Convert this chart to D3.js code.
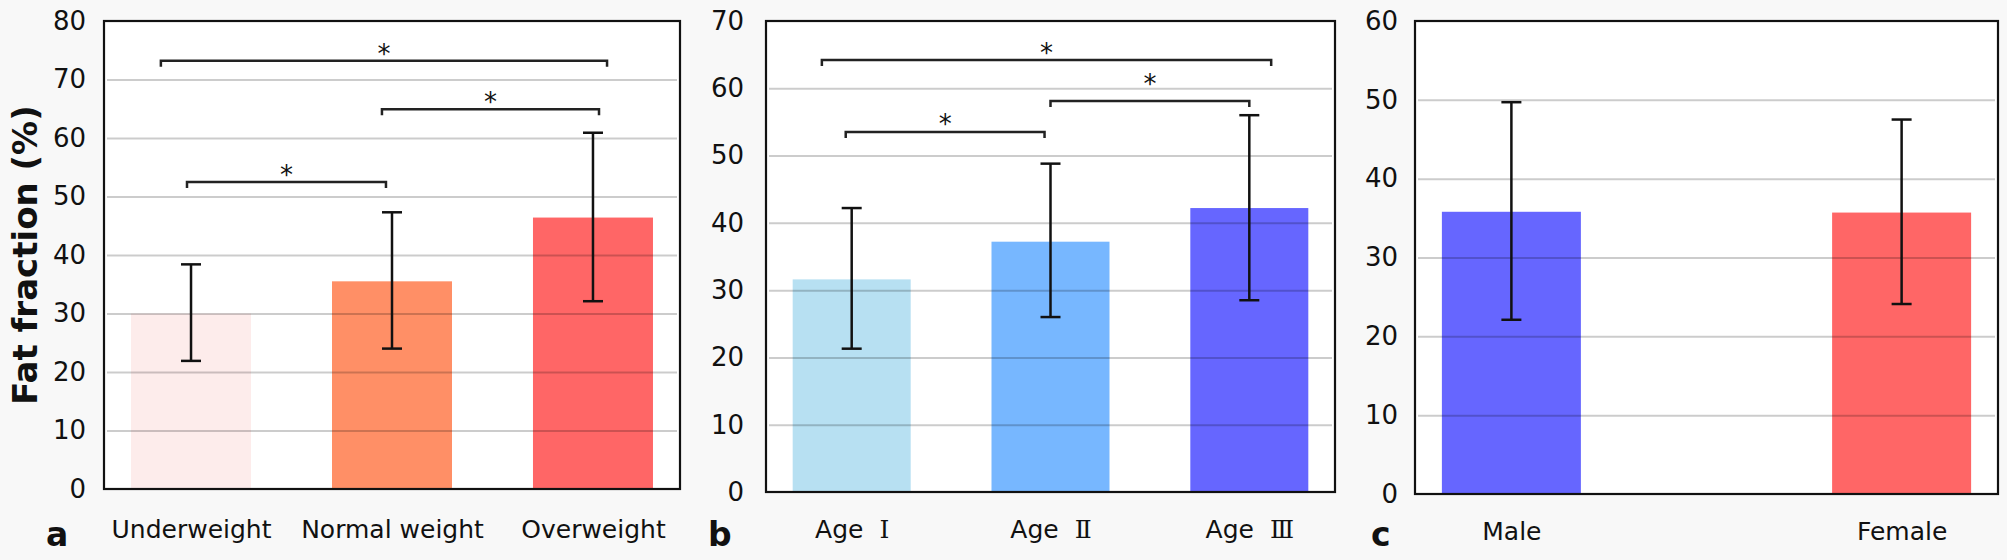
<!DOCTYPE html>
<html>
<head>
<meta charset="utf-8">
<script src="https://cdn.jsdelivr.net/npm/d3@7"></script>
<style>
  body { margin: 0; background: #f8f8f8; }
  svg { display: block; }
  text { font-family: "DejaVu Sans", sans-serif; fill: #111; }
</style>
</head>
<body>
<svg id="chart" width="2007" height="560"></svg>
<script>
// data
const catsA = ["Underweight", "Normal weight", "Overweight"];
const meanA = [30.0, 35.5, 46.4];
const lowA  = [21.9, 24.0, 32.1];
const highA = [38.4, 47.3, 60.9];
const ticksA = [0, 10, 20, 30, 40, 50, 60, 70, 80];
// significance brackets: start/end in category index units, level in %
const sigFromA = [-0.15, 0.95, -0.02];
const sigToA   = [2.07, 2.03, 0.97];
const sigLevA  = [73.2, 64.9, 52.5];

const catsB = ["Age \u2160", "Age \u2161", "Age \u2162"];
const meanB = [31.6, 37.2, 42.2];
const lowB  = [21.3, 26.0, 28.5];
const highB = [42.2, 48.8, 56.0];
const ticksB = [0, 10, 20, 30, 40, 50, 60, 70];
const sigFromB = [-0.15, 1.0, -0.03];
const sigToB   = [2.11, 2.0, 0.97];
const sigLevB  = [64.2, 58.1, 53.5];

const catsC = ["Male", "Female"];
const meanC = [35.8, 35.7];
const lowC  = [22.1, 24.1];
const highC = [49.7, 47.5];
const ticksC = [0, 10, 20, 30, 40, 50, 60];

const svg = d3.select("#chart");

// panel layout
const panels = [
  {cats: catsA, mean: meanA, low: lowA, high: highA, ticks: ticksA,
   from: sigFromA, to: sigToA, lev: sigLevA, starGap: [13, 13, 13],
   left: 104, right: 680, top: 21, bottom: 489, pad: 0.433, barW: 120,
   colors: ["#fdeceb", "#ff8f66", "#ff6666"], letter: "a", letterX: 46, tickRight: 86},
  {cats: catsB, mean: meanB, low: lowB, high: highB, ticks: ticksB,
   from: sigFromB, to: sigToB, lev: sigLevB, starGap: [13, 23, 14],
   left: 766, right: 1335, top: 21, bottom: 492, pad: 0.431, barW: 118,
   colors: ["#b7e0f2", "#77b7ff", "#6666ff"], letter: "b", letterX: 708, tickRight: 744},
  {cats: catsC, mean: meanC, low: lowC, high: highC, ticks: ticksC,
   from: [], to: [], lev: [], starGap: [],
   left: 1415, right: 1998, top: 21, bottom: 494, pad: 0.247, barW: 139,
   colors: ["#6666ff", "#ff6666"], letter: "c", letterX: 1371, tickRight: 1398}
];

panels.forEach(function(p) {
  const g = svg.append("g");
  const n = p.cats.length;

  const x = d3.scalePoint().domain(p.cats).range([p.left, p.right]).padding(p.pad);
  const xi = d3.scaleLinear().domain([0, n - 1]).range([x(p.cats[0]), x(p.cats[n - 1])]);
  const y = d3.scaleLinear().domain([0, d3.max(p.ticks)]).range([p.bottom, p.top]);

  // white plot area
  g.append("rect")
    .attr("x", p.left).attr("y", p.top)
    .attr("width", p.right - p.left).attr("height", p.bottom - p.top)
    .attr("fill", "white");

  // bars
  g.selectAll(".bar")
    .data(p.cats)
    .enter()
    .append("rect")
      .attr("x", function(d) { return x(d) - p.barW / 2; })
      .attr("y", function(d, i) { return y(p.mean[i]); })
      .attr("width", p.barW)
      .attr("height", function(d, i) { return p.bottom - y(p.mean[i]); })
      .attr("fill", function(d, i) { return p.colors[i]; });

  // gridlines over the bars, semi transparent
  const inner = p.ticks.filter(function(t) { return t > 0 && t < d3.max(p.ticks); });
  g.append("g")
    .attr("transform", "translate(" + (p.left + 3) + ",0)")
    .call(d3.axisLeft(y).tickValues(inner).tickSize(-(p.right - p.left - 6)).tickFormat(""))
    .call(function(s) { s.select(".domain").remove(); })
    .selectAll("line")
      .attr("stroke", "#000")
      .attr("stroke-opacity", 0.2)
      .attr("stroke-width", 2);

  // y tick labels
  g.append("g")
    .attr("transform", "translate(" + p.tickRight + ",0)")
    .call(d3.axisLeft(y).tickValues(p.ticks).tickSize(0).tickPadding(0))
    .call(function(s) { s.select(".domain").remove(); })
    .selectAll("text")
      .attr("font-size", 26)
      .attr("font-family", "DejaVu Sans")
      .attr("fill", "#111");

  // category labels
  g.append("g")
    .attr("transform", "translate(0," + p.bottom + ")")
    .call(d3.axisBottom(x).tickSize(0))
    .call(function(s) { s.select(".domain").remove(); })
    .selectAll("text")
      .attr("dy", null)
      .attr("y", 538 - p.bottom + (p.letter === "c" ? 2 : 0))
      .attr("font-size", 25)
      .attr("font-family", "DejaVu Sans")
      .attr("fill", "#111")
      .each(function(d) {
        // roman numerals drawn with serifs and a wider gap, like the original
        const m = d.match(/^(\S+)\s*([\u2160-\u216b])$/);
        if (!m) return;
        const t = d3.select(this).text(null);
        t.append("tspan").text(m[1]);
        t.append("tspan").attr("dx", 16).attr("font-family", "DejaVu Serif").text(m[2]);
      });

  // error bars
  const eb = g.selectAll(".err").data(p.cats).enter().append("g")
    .attr("stroke", "#111").attr("stroke-width", 2.5);
  eb.append("line")
    .attr("x1", function(d) { return x(d); }).attr("x2", function(d) { return x(d); })
    .attr("y1", function(d, i) { return y(p.low[i]); })
    .attr("y2", function(d, i) { return y(p.high[i]); });
  eb.append("line")
    .attr("x1", function(d) { return x(d) - 10; }).attr("x2", function(d) { return x(d) + 10; })
    .attr("y1", function(d, i) { return y(p.low[i]); })
    .attr("y2", function(d, i) { return y(p.low[i]); });
  eb.append("line")
    .attr("x1", function(d) { return x(d) - 10; }).attr("x2", function(d) { return x(d) + 10; })
    .attr("y1", function(d, i) { return y(p.high[i]); })
    .attr("y2", function(d, i) { return y(p.high[i]); });

  // significance brackets
  const br = g.selectAll(".sig").data(p.lev).enter().append("g");
  br.append("path")
    .attr("fill", "none")
    .attr("stroke", "#222")
    .attr("stroke-width", 2.5)
    .attr("d", function(d, i) {
      const x1 = xi(p.from[i]), x2 = xi(p.to[i]), yy = y(d);
      return "M" + x1 + "," + (yy + 6) + "V" + yy + "H" + x2 + "V" + (yy + 6);
    });
  br.append("text")
    .attr("x", function(d, i) { return (xi(p.from[i]) + xi(p.to[i])) / 2; })
    .attr("y", function(d, i) { return y(d) - p.starGap[i] + 15; })
    .attr("text-anchor", "middle")
    .attr("font-size", 26)
    .attr("fill", "#333")
    .text("*");

  // frame
  g.append("rect")
    .attr("x", p.left).attr("y", p.top)
    .attr("width", p.right - p.left).attr("height", p.bottom - p.top)
    .attr("fill", "none")
    .attr("stroke", "#111")
    .attr("stroke-width", 2.2);

  // panel letter
  g.append("text")
    .attr("x", p.letterX).attr("y", 546)
    .attr("font-size", 33)
    .attr("font-weight", "bold")
    .text(p.letter);
});

// y axis title
svg.append("text")
  .attr("transform", "translate(37,255) rotate(-90)")
  .attr("text-anchor", "middle")
  .attr("font-size", 34)
  .attr("font-weight", "bold")
  .text("Fat fraction (%)");
</script>
</body>
</html>
